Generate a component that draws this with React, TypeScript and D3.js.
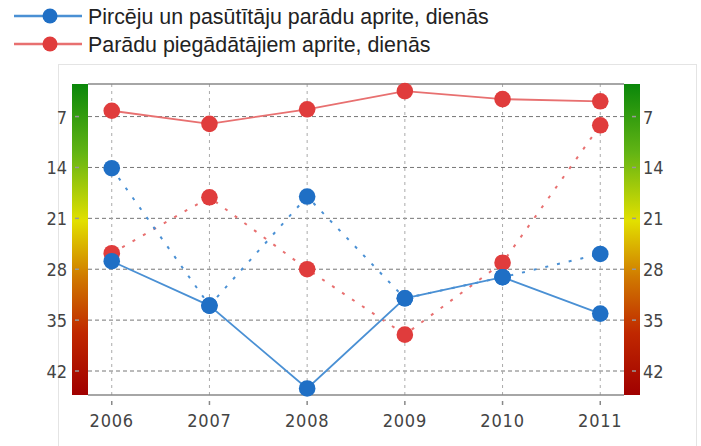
import { useEffect, useRef } from 'react'
import * as d3 from 'd3'

const YEARS = ['2006', '2007', '2008', '2009', '2010', '2011']
const Y_TICKS = [7, 14, 21, 28, 35, 42]

// solid series
const BUYERS = [26.9, 33.0, 44.4, 32.0, 29.1, 34.1]
const SUPPLIERS = [6.2, 8.0, 6.0, 3.5, 4.6, 4.9]
// dashed series
const BUYERS_DASH = [14.1, 33.0, 18.0, 32.0, 29.1, 25.9]
const SUPPLIERS_DASH = [25.8, 18.1, 28.0, 37.0, 27.1, 8.2]

const LEGEND = [
  { label: 'Pircēju un pasūtītāju parādu aprite, dienās', line: '#4a90d4', dot: '#1f6fc5' },
  { label: 'Parādu piegādātājiem aprite, dienās', line: '#e87070', dot: '#e03c3c' },
]

export default function App() {
  const svgRef = useRef<SVGSVGElement>(null)

  useEffect(() => {
    if (!svgRef.current) return
    const svg = d3.select(svgRef.current)
    svg.selectAll('*').remove()

    const W = 701
    const H = 446
    svg.attr('width', W).attr('height', H)

    const left = 88
    const right = 624
    const top = 84
    const bottom = 395
    const barW = 16
    const axisFont = '"DejaVu Sans Condensed", "DejaVu Sans", sans-serif'

    // gradient for side bars
    const defs = svg.append('defs')
    const grad = defs.append('linearGradient').attr('id', 'scale-grad')
      .attr('x1', 0).attr('y1', 0).attr('x2', 0).attr('y2', 1)
    grad.append('stop').attr('offset', '0%').attr('stop-color', '#0a870a')
    grad.append('stop').attr('offset', '22%').attr('stop-color', '#62b414')
    grad.append('stop').attr('offset', '44%').attr('stop-color', '#e2e000')
    grad.append('stop').attr('offset', '62%').attr('stop-color', '#d07a00')
    grad.append('stop').attr('offset', '80%').attr('stop-color', '#c02800')
    grad.append('stop').attr('offset', '100%').attr('stop-color', '#a00000')

    // outer box
    svg.append('rect')
      .attr('x', 58.5).attr('y', 64.5).attr('width', 638).attr('height', 400)
      .attr('fill', '#fff').attr('stroke', '#e4e4e4')

    // legend
    LEGEND.forEach((d, i) => {
      const cy = 16 + i * 28
      svg.append('line')
        .attr('x1', 14).attr('x2', 82).attr('y1', cy).attr('y2', cy)
        .attr('stroke', d.line).attr('stroke-width', 2.5)
      svg.append('circle')
        .attr('cx', 50).attr('cy', cy).attr('r', 7.5).attr('fill', d.dot)
      svg.append('text')
        .attr('x', 88).attr('y', cy + 7.5)
        .attr('font-family', '"Liberation Sans", Arial, sans-serif')
        .attr('font-size', 21.4).attr('fill', '#222')
        .text(d.label)
    })

    const x = d3.scalePoint<string>().domain(YEARS).range([left, right]).padding(0.243)
    const y = d3.scaleLinear().domain([2.52, 45.3]).range([top, bottom])

    // grid
    svg.append('g').selectAll('line')
      .data(Y_TICKS).join('line')
      .attr('x1', left).attr('x2', right)
      .attr('y1', (d) => y(d)).attr('y2', (d) => y(d))
      .attr('stroke', '#777').attr('stroke-width', 1).attr('stroke-dasharray', '4,3')
    svg.append('g').selectAll('line')
      .data(YEARS).join('line')
      .attr('x1', (d) => x(d)!).attr('x2', (d) => x(d)!)
      .attr('y1', top).attr('y2', bottom)
      .attr('stroke', '#aaa').attr('stroke-width', 1).attr('stroke-dasharray', '3,4')

    // plot frame
    svg.append('line').attr('x1', left).attr('x2', right).attr('y1', top).attr('y2', top)
      .attr('stroke', '#888').attr('stroke-width', 1.5)
    svg.append('line').attr('x1', left).attr('x2', right).attr('y1', bottom).attr('y2', bottom)
      .attr('stroke', '#888').attr('stroke-width', 1.5)

    // side color bars
    ;[left - barW, right].forEach((bx) => {
      svg.append('rect')
        .attr('x', bx).attr('y', top).attr('width', barW).attr('height', bottom - top)
        .attr('fill', 'url(#scale-grad)')
    })

    // y ticks on bars + labels
    const yt = svg.append('g')
    yt.selectAll('line.l').data(Y_TICKS).join('line').attr('class', 'l')
      .attr('x1', left - 13).attr('x2', left - 9)
      .attr('y1', (d) => y(d)).attr('y2', (d) => y(d))
      .attr('stroke', '#999').attr('stroke-width', 1.5)
    yt.selectAll('line.r').data(Y_TICKS).join('line').attr('class', 'r')
      .attr('x1', right + 8).attr('x2', right + 12)
      .attr('y1', (d) => y(d)).attr('y2', (d) => y(d))
      .attr('stroke', '#999').attr('stroke-width', 1.5)
    yt.selectAll('text.l').data(Y_TICKS).join('text').attr('class', 'l')
      .attr('x', 67).attr('y', (d) => y(d) + 7)
      .attr('text-anchor', 'end').attr('font-family', axisFont)
      .attr('font-size', 18).attr('fill', '#444')
      .text((d) => d)
    yt.selectAll('text.r').data(Y_TICKS).join('text').attr('class', 'r')
      .attr('x', 643).attr('y', (d) => y(d) + 7)
      .attr('text-anchor', 'start').attr('font-family', axisFont)
      .attr('font-size', 18).attr('fill', '#444')
      .text((d) => d)

    // x ticks + labels
    const xt = svg.append('g')
    xt.selectAll('line').data(YEARS).join('line')
      .attr('x1', (d) => x(d)!).attr('x2', (d) => x(d)!)
      .attr('y1', bottom + 6).attr('y2', bottom + 10)
      .attr('stroke', '#888').attr('stroke-width', 1.5)
    xt.selectAll('text').data(YEARS).join('text')
      .attr('x', (d) => x(d)!).attr('y', 427)
      .attr('text-anchor', 'middle').attr('font-family', axisFont)
      .attr('font-size', 18).attr('fill', '#444').attr('letter-spacing', 0.8)
      .text((d) => d)

    const line = d3.line<number>().x((_, i) => x(YEARS[i])!).y((d) => y(d))

    const drawSeries = (vals: number[], lineColor: string, dotColor: string, dashed: boolean) => {
      svg.append('path')
        .datum(vals)
        .attr('d', line)
        .attr('fill', 'none')
        .attr('stroke', lineColor)
        .attr('stroke-width', dashed ? 2 : 1.8)
        .attr('stroke-dasharray', dashed ? '3,9' : null)
      svg.append('g').selectAll('circle')
        .data(vals).join('circle')
        .attr('cx', (_, i) => x(YEARS[i])!)
        .attr('cy', (d) => y(d))
        .attr('r', 8.3)
        .attr('fill', dotColor)
    }

    drawSeries(SUPPLIERS_DASH, LEGEND[1].line, LEGEND[1].dot, true)
    drawSeries(BUYERS_DASH, LEGEND[0].line, LEGEND[0].dot, true)
    drawSeries(SUPPLIERS, LEGEND[1].line, LEGEND[1].dot, false)
    drawSeries(BUYERS, LEGEND[0].line, LEGEND[0].dot, false)
  }, [])

  return <svg ref={svgRef} style={{ position: 'absolute', left: 0, top: 0, display: 'block' }} />
}
